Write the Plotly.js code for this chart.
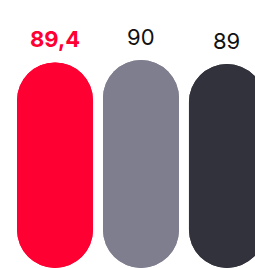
<!DOCTYPE html>
<html><head><meta charset="utf-8">
<script src="https://cdn.plot.ly/plotly-3.0.1.min.js"></script>
<style>html,body{margin:0;padding:0;background:#fff}#c{width:255px;height:268px}</style>
</head><body><div id="c"></div>
<script>
const categories = ['A', 'B', 'C'];
const values = [89.4, 90, 89];
const labels = ['89,4', '90', '89'];
const colors = ['#FF0033', '#7F7E8F', '#31323C'];
const labelColors = ['#FF0033', '#111111', '#111111'];
const labelWeights = [700, 400, 400];

const lo = 38;
const xs = categories.map((c, i) => i);
const upperTrace = {
  type: 'bar', x: xs, y: values.map(v => v - lo), base: values.map(() => lo),
  width: 0.884, marker: {color: colors, cornerradius: '50%', line: {width: 0}},
  hoverinfo: 'none'
};
const lowerTrace = {
  type: 'bar', x: xs, y: values.map(v => -(v - lo)), base: values,
  width: 0.884, marker: {color: colors, cornerradius: '50%', line: {width: 0}},
  hoverinfo: 'none'
};
const annotations = values.map((v, i) => ({
  x: i, y: v, xref: 'x', yref: 'y', text: labels[i], showarrow: false,
  yanchor: 'bottom', yshift: 8,
  font: {family: 'Inter, Lato, sans-serif', size: 22, color: labelColors[i], weight: labelWeights[i]}
}));
Plotly.newPlot('c', [upperTrace, lowerTrace], {
  width: 255, height: 268, margin: {l: 0, r: 0, t: 0, b: 0},
  paper_bgcolor: '#fff', plot_bgcolor: '#fff', showlegend: false,
  barmode: 'overlay',
  xaxis: {range: [-0.64, 2.326], visible: false, fixedrange: true},
  yaxis: {range: [lo, lo + 268 / 4], visible: false, fixedrange: true},
  annotations: annotations
}, {staticPlot: true, displayModeBar: false});
</script></body></html>
